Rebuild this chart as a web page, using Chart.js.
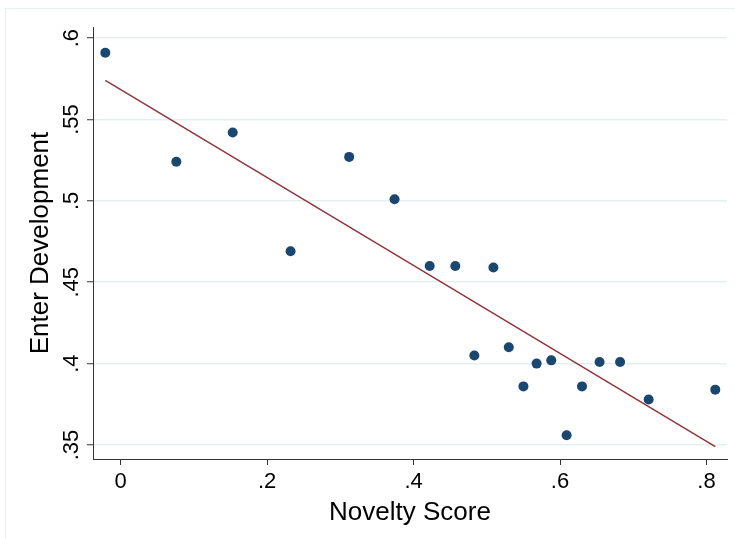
<!DOCTYPE html>
<html>
<head>
<meta charset="utf-8">
<script src="https://cdn.jsdelivr.net/npm/chart.js@4.4.1/dist/chart.umd.min.js"></script>
<style>
  html, body { margin: 0; padding: 0; background: #fff; }
  #wrap { position: relative; width: 735px; height: 539px; overflow: hidden; }
  #frame { position: absolute; left: 5px; top: 8px; width: 760px; height: 560px;
           border-left: 1.5px solid #e9f0f1; border-top: 1.5px solid #e9f0f1; }
  canvas { position: absolute; left: 0; top: 0; }
</style>
</head>
<body>
<div id="wrap">
  <div id="frame"></div>
  <canvas id="chart" width="735" height="539"></canvas>
</div>
<script>
// novelty score vs. share entering development, one dot per group
const noveltyScore = [-0.021, 0.076, 0.153, 0.232, 0.312, 0.374, 0.422, 0.457, 0.509, 0.483,
                      0.530, 0.550, 0.568, 0.588, 0.609, 0.630, 0.654, 0.682, 0.721, 0.812];
const enterDev = [0.591, 0.524, 0.542, 0.469, 0.527, 0.501, 0.460, 0.460, 0.459, 0.405,
                  0.410, 0.386, 0.400, 0.402, 0.356, 0.386, 0.401, 0.401, 0.378, 0.384];

// fitted line end points
const fitX = [-0.021, 0.812];
const fitY = [0.574, 0.349];

const xTicks = [0, 0.2, 0.4, 0.6, 0.8];
const xTickLabels = ['0', '.2', '.4', '.6', '.8'];
const yTicks = [0.35, 0.4, 0.45, 0.5, 0.55, 0.6];
const yTickLabels = ['.35', '.4', '.45', '.5', '.55', '.6'];

const font = '"Liberation Sans", Arial, Helvetica, sans-serif';

function pickLabel(ticks, labels, value) {
    const i = ticks.findIndex(t => Math.abs(t - value) < 1e-9);
    return i >= 0 ? labels[i] : '';
}

const ctx = document.getElementById('chart').getContext('2d');

new Chart(ctx, {
    type: 'scatter',
    data: {
        datasets: [
            {
                label: 'Fitted values',
                type: 'line',
                data: fitX.map((x, i) => ({ x: x, y: fitY[i] })),
                borderColor: '#90353b',
                borderWidth: 1.5,
                pointRadius: 0,
                fill: false,
                order: 1
            },
            {
                label: 'Enter Development',
                data: noveltyScore.map((x, i) => ({ x: x, y: enterDev[i] })),
                backgroundColor: '#1a476f',
                borderWidth: 0,
                pointRadius: 5,
                order: 2
            }
        ]
    },
    options: {
        responsive: false,
        animation: false,
        layout: { padding: { left: 0, top: 27, right: 8, bottom: 0 } },
        plugins: {
            legend: { display: false },
            tooltip: { enabled: false }
        },
        scales: {
            x: {
                type: 'linear',
                min: -0.0378,
                max: 0.828,
                afterBuildTicks: scale => { scale.ticks = xTicks.map(v => ({ value: v })); },
                afterFit: scale => { scale.height = 80; },
                border: { display: true, color: '#333', width: 1 },
                grid: {
                    display: true,
                    drawOnChartArea: false,
                    drawTicks: true,
                    tickLength: 6,
                    tickColor: '#333',
                    tickWidth: 1
                },
                ticks: {
                    color: '#000',
                    padding: 4,
                    font: { family: font, size: 22 },
                    callback: v => pickLabel(xTicks, xTickLabels, v)
                },
                title: {
                    display: true,
                    text: 'Novelty Score',
                    color: '#000',
                    font: { family: font, size: 26 },
                    padding: { top: 0, bottom: 11 }
                }
            },
            y: {
                type: 'linear',
                min: 0.3414,
                max: 0.6068,
                afterBuildTicks: scale => { scale.ticks = yTicks.map(v => ({ value: v })); },
                afterFit: scale => { scale.width = 93; },
                border: { display: true, color: '#333', width: 1 },
                grid: {
                    color: '#e6eff0',
                    lineWidth: 1.5,
                    drawTicks: true,
                    tickLength: 6,
                    tickColor: '#333',
                    tickWidth: 1
                },
                ticks: {
                    color: '#000',
                    padding: 0,
                    minRotation: 90,
                    maxRotation: 90,
                    crossAlign: 'center',
                    font: { family: font, size: 22 },
                    callback: v => pickLabel(yTicks, yTickLabels, v)
                },
                title: {
                    display: true,
                    text: 'Enter Development',
                    color: '#000',
                    font: { family: font, size: 26 },
                    padding: { top: 25, bottom: 0 }
                }
            }
        }
    }
});
</script>
</body>
</html>
